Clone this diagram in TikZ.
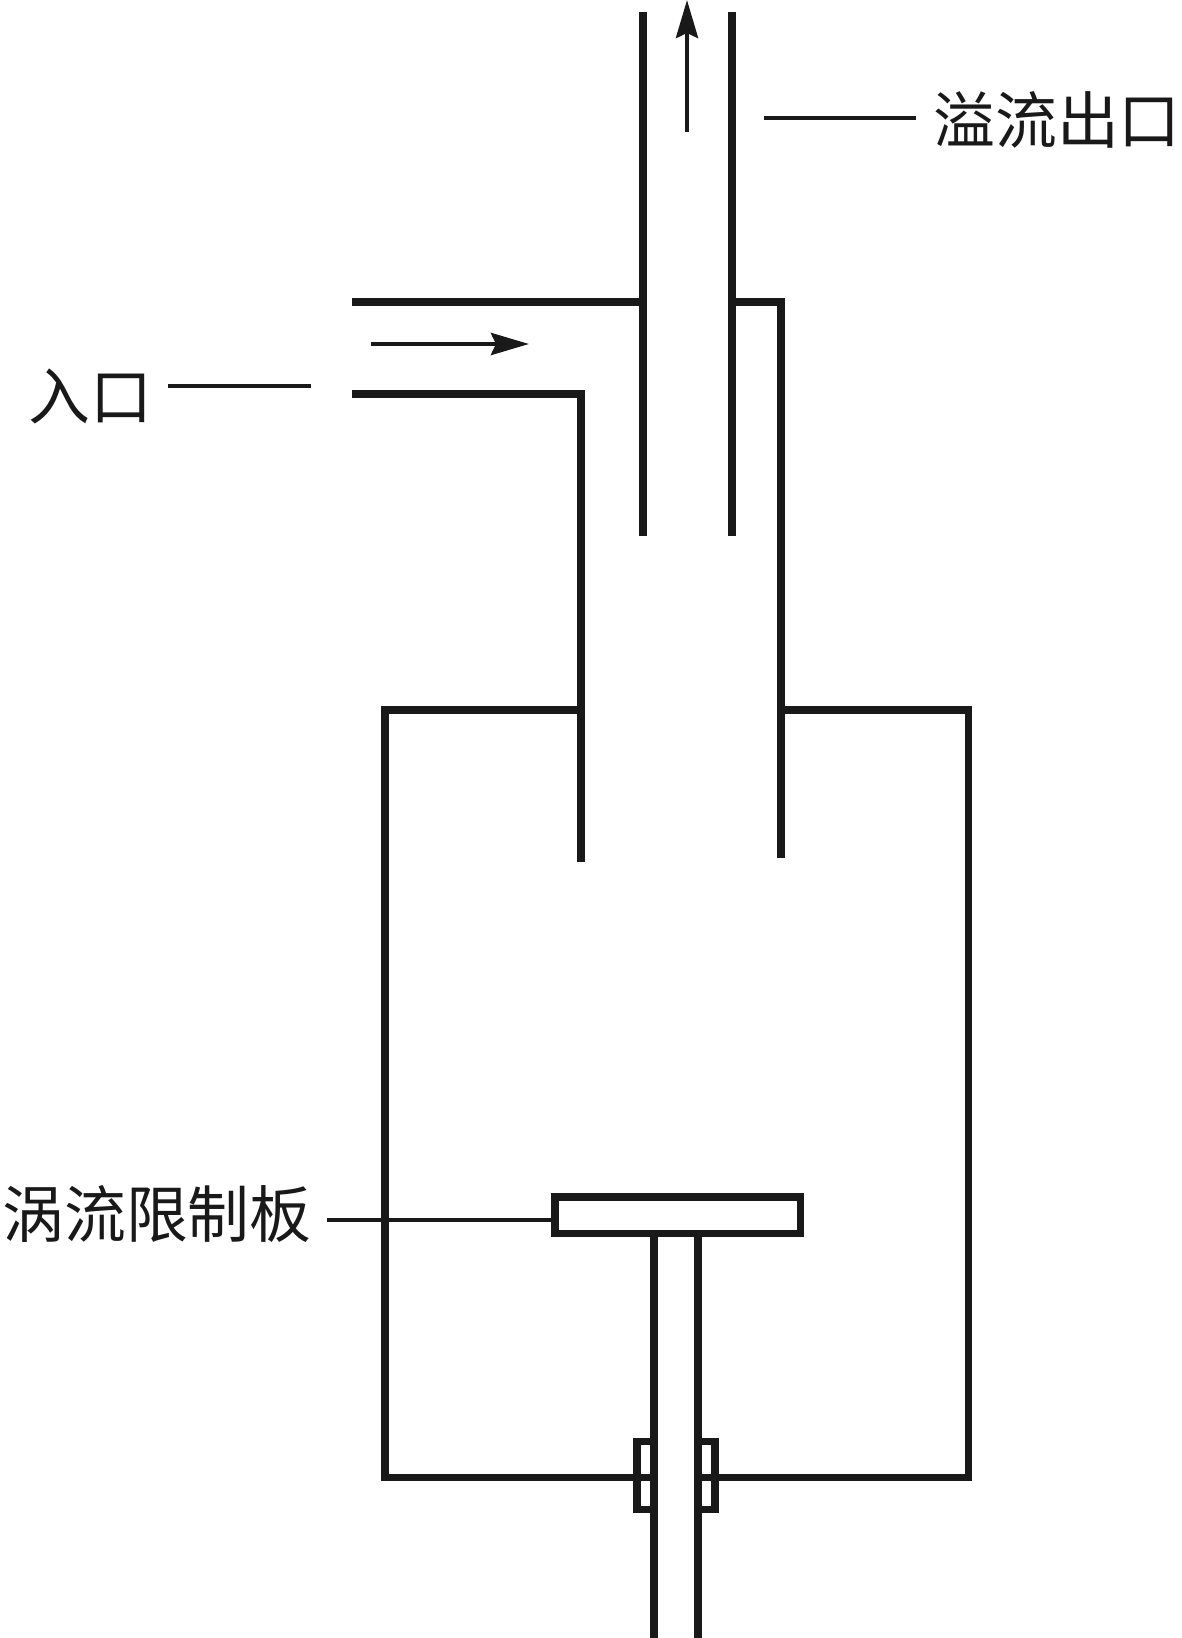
\documentclass[tikz,border=0pt]{standalone}
\usepackage{fontspec}
\newfontfamily\cjk{Noto Sans CJK SC}
\usetikzlibrary{arrows.meta}
\tikzset{
  wall/.style={line width=4pt,black!90},
  leader/.style={line width=2.6pt,black!90},
  flow/.style={line width=2.6pt,black!90,-{Stealth[length=0.76cm,width=0.44cm,inset=0.1cm]}},
  tag/.style={font=\cjk\fontsize{35.2}{36}\selectfont,inner sep=0pt,black!90}
}
\begin{document}
\begin{tikzpicture}[x=0.02cm,y=-0.02cm]
    \useasboundingbox (0,0) rectangle (1181,1638);
    \node[tag,anchor=west] (outlet) at (933,120) {溢流出口};
    \node[tag,anchor=east] (inlet) at (153,396) {入口};
    \node[tag,anchor=east] (plate) at (312,1214) {涡流限制板};
    \coordinate (outletend) at (764,118);
    \coordinate (inletend) at (311,386);
    \coordinate (plateend) at (553,1220);
    \coordinate (inflowa) at (371,344);
    \coordinate (inflowb) at (529,344);
    \coordinate (upflowa) at (687,132);
    \coordinate (upflowb) at (687,0);
    % overflow pipe
    \draw[wall] (643,12) -- (643,536);
    \draw[wall] (732,12) -- (732,536);
    % inlet and neck
    \draw[wall] (352,302) -- (643,302);
    \draw[wall] (352,394) -- (581,394) -- (581,862);
    \draw[wall] (732,302) -- (781,302) -- (781,858);
    % body
    \draw[wall] (581,710) -- (385,710) -- (385,1477) -- (654,1477);
    \draw[wall] (781,710) -- (968,710) -- (968,1477) -- (698,1477);
    % plate and stem
    \draw[wall] (555,1197) rectangle (800,1233);
    \draw[wall] (654,1233) -- (654,1638);
    \draw[wall] (698,1233) -- (698,1638);
    \draw[wall] (654,1441) -- (637,1441) -- (637,1509) -- (654,1509);
    \draw[wall] (698,1441) -- (715,1441) -- (715,1509) -- (698,1509);
    % labels
    \draw[leader] (outlet.west |- outletend) ++(-17,0) -- (outletend);
    \draw[leader] (inlet.east |- inletend) ++(15,0) -- (inletend);
    \draw[leader] (plate.east |- plateend) ++(15,0) -- (plateend);
    \draw[flow] (inflowa) -- (inflowb);
    \draw[flow] (upflowa) -- (upflowb);
\end{tikzpicture}
\end{document}
